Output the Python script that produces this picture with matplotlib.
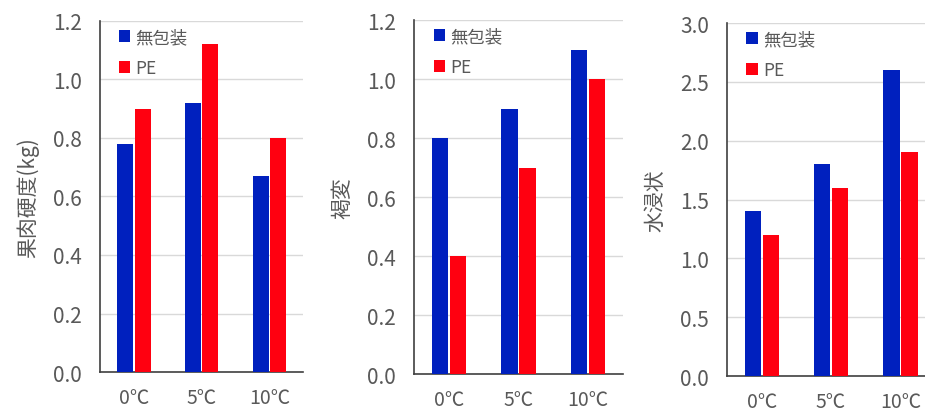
import matplotlib
matplotlib.use("Agg")
import matplotlib.pyplot as plt
import numpy as np

plt.rcParams['font.family'] = ['Noto Sans CJK JP', 'DejaVu Sans']

temps = ["0℃", "5℃", "10℃"]
series_names = ["無包装", "PE"]

firmness_none = [0.78, 0.92, 0.67]
firmness_pe = [0.90, 1.12, 0.80]

browning_none = [0.8, 0.9, 1.1]
browning_pe = [0.4, 0.7, 1.0]

soaking_none = [1.4, 1.8, 2.6]
soaking_pe = [1.2, 1.6, 1.9]

BLUE = "#0020BE"
RED = "#FF0010"
GRAY = "#595959"

panels = [
    dict(rect=[0.108, 0.099, 0.220, 0.848], none=firmness_none, pe=firmness_pe,
         ylabel="果肉硬度(kg)", ymax=1.2, step=0.2),
    dict(rect=[0.4476, 0.094, 0.226, 0.855], none=browning_none, pe=browning_pe,
         ylabel="褐変", ymax=1.2, step=0.2),
    dict(rect=[0.786, 0.089, 0.225, 0.853], none=soaking_none, pe=soaking_pe,
         ylabel="水浸状", ymax=3.0, step=0.5),
]

fig = plt.figure(figsize=(9.25, 4.14), dpi=100)
x = np.arange(len(temps))
w = 0.235
off = 0.13

for p in panels:
    ax = fig.add_axes(p["rect"])
    ax.bar(x - off, p["none"], w, color=BLUE, label=series_names[0], zorder=3)
    ax.bar(x + off, p["pe"], w, color=RED, label=series_names[1], zorder=3)
    ax.set_xlim(-0.5, 2.5)
    ax.set_ylim(0, p["ymax"])
    ticks = np.arange(0, p["ymax"] + 1e-9, p["step"])
    ax.set_yticks(ticks)
    ax.set_yticklabels([f"{t:.1f}" for t in ticks])
    ax.set_xticks(x)
    ax.set_xticklabels(temps)
    ax.tick_params(axis="y", length=0, pad=13, labelsize=15, labelcolor=GRAY)
    ax.tick_params(axis="x", length=0, pad=11, labelsize=14, labelcolor=GRAY)
    ax.grid(axis="y", color="#D9D9D9", linewidth=1, zorder=0)
    ax.set_axisbelow(True)
    for s in ("top", "right"):
        ax.spines[s].set_visible(False)
    for s in ("left", "bottom"):
        ax.spines[s].set_color("#404040")
        ax.spines[s].set_linewidth(1.2)
    ax.set_ylabel(p["ylabel"], fontsize=15, color=GRAY, labelpad=10)
    leg = ax.legend(loc="upper left", frameon=False, fontsize=12.5,
                    handlelength=0.65, handleheight=0.65, handletextpad=0.3,
                    labelspacing=0.75, borderaxespad=0.0, bbox_to_anchor=(0.06, 1.0))
    for t in leg.get_texts():
        t.set_color(GRAY)

fig.savefig("out.png", dpi=100)
